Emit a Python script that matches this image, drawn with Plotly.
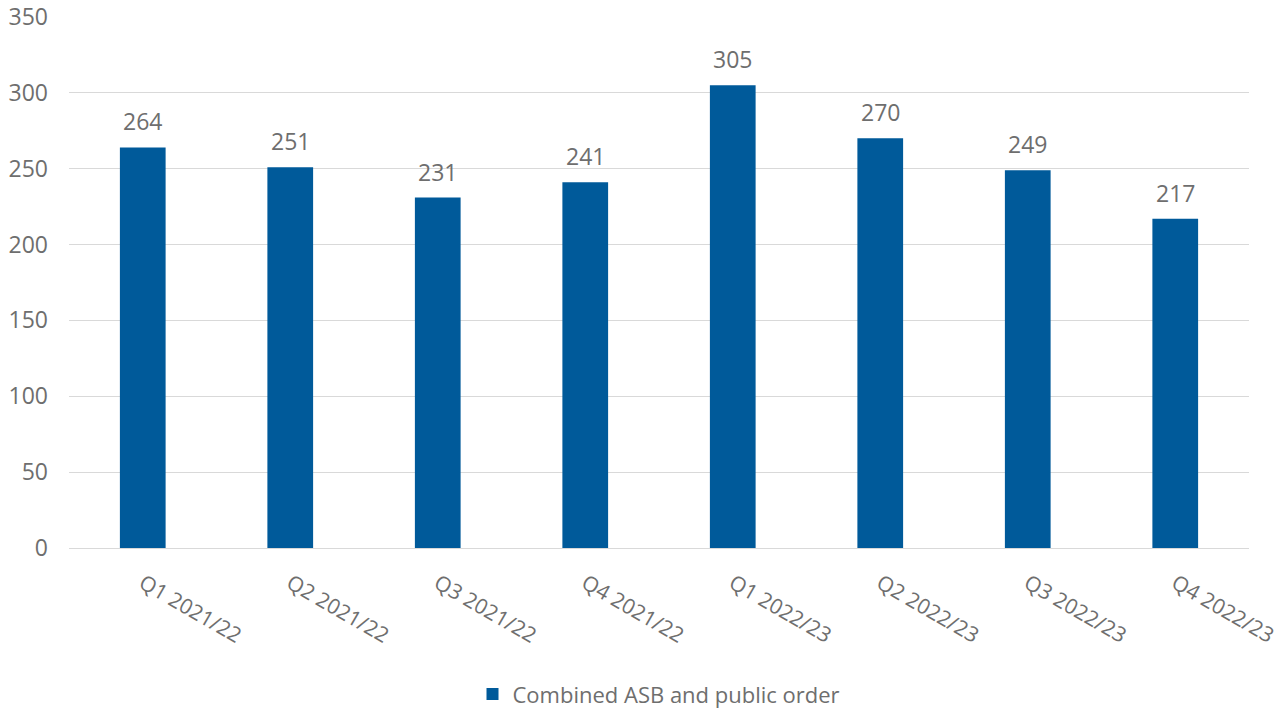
import plotly.graph_objects as go

categories = ["Q1 2021/22", "Q2 2021/22", "Q3 2021/22", "Q4 2021/22",
              "Q1 2022/23", "Q2 2022/23", "Q3 2022/23", "Q4 2022/23"]
values = [264, 251, 231, 241, 305, 270, 249, 217]
series_name = "Combined ASB and public order"

BAR = "#005A9A"
TXT = "#6E6E6E"
FONT = "Open Sans, Noto Sans, sans-serif"
FS = 23

fig = go.Figure()
fig.add_trace(go.Bar(x=categories, y=values, name=series_name,
                     marker=dict(color=BAR, line=dict(width=0))))

for c, v in zip(categories, values):
    fig.add_annotation(x=c, y=v, text=str(v), showarrow=False,
                       yanchor="bottom", yshift=8,
                       font=dict(family=FONT, size=FS, color=TXT))

fig.update_layout(
    width=1283, height=711,
    margin=dict(l=69, r=34, t=17, b=163, autoexpand=False),
    paper_bgcolor="white", plot_bgcolor="white",
    bargap=0.69,
    font=dict(family=FONT, size=FS, color=TXT),
    showlegend=True,
    legend=dict(orientation="h", x=0.5, xanchor="center", y=-0.236, yanchor="top",
                font=dict(family=FONT, size=22, color=TXT)),
    xaxis=dict(tickangle=30, showgrid=False, showline=True, linecolor="#D9D9D9",
               linewidth=1, ticks="", automargin=False, ticklabelstandoff=14,
               tickfont=dict(family=FONT, size=21, color=TXT)),
    yaxis=dict(range=[0, 350], dtick=50, showgrid=True, gridcolor="#D9D9D9",
               gridwidth=1, zeroline=False, showline=False, ticks="",
               automargin=False, ticklabelstandoff=20,
               tickfont=dict(family=FONT, size=FS, color=TXT)),
)

fig.write_html("out.html")
